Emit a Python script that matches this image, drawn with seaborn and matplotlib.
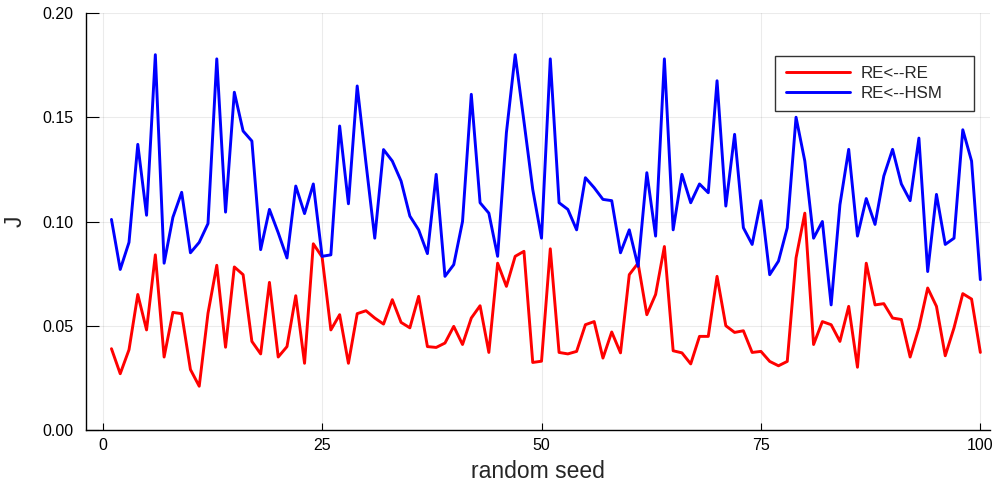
import numpy as np
import pandas as pd
import seaborn as sns
import matplotlib
matplotlib.use("Agg")
import matplotlib.pyplot as plt

seeds = list(range(1, 101))

re_re = [0.039, 0.027, 0.0385, 0.065, 0.048, 0.084, 0.035, 0.0564, 0.0558, 0.029,
         0.021, 0.056, 0.079, 0.0397, 0.0782, 0.0745, 0.0425, 0.0365, 0.0708, 0.035,
         0.040, 0.0644, 0.032, 0.0893, 0.083, 0.048, 0.0553, 0.032, 0.0558, 0.0572,
         0.0537, 0.0508, 0.0625, 0.0516, 0.049, 0.0641, 0.040, 0.0396, 0.0417, 0.0497,
         0.041, 0.0537, 0.0596, 0.0372, 0.080, 0.0689, 0.0833, 0.0857, 0.0324, 0.033,
         0.0869, 0.0372, 0.0365, 0.0377, 0.0505, 0.052, 0.0345, 0.047, 0.037, 0.0745,
         0.080, 0.0553, 0.065, 0.088, 0.038, 0.037, 0.0317, 0.0449, 0.0449, 0.0737,
         0.050, 0.0468, 0.0476, 0.0372, 0.0377, 0.0329, 0.0308, 0.0329, 0.0825, 0.104,
         0.041, 0.052, 0.0505, 0.0425, 0.0593, 0.0301, 0.080, 0.060, 0.0606, 0.0537,
         0.053, 0.035, 0.049, 0.0681, 0.0593, 0.0356, 0.049, 0.0654, 0.0628, 0.0372]

re_hsm = [0.101, 0.077, 0.090, 0.137, 0.103, 0.180, 0.080, 0.102, 0.114, 0.085,
          0.090, 0.099, 0.178, 0.1045, 0.162, 0.1434, 0.1386, 0.0865, 0.1058, 0.0946,
          0.0825, 0.117, 0.1038, 0.118, 0.0833, 0.084, 0.1458, 0.1085, 0.165, 0.128,
          0.092, 0.1345, 0.129, 0.1194, 0.1026, 0.096, 0.0846, 0.1226, 0.0737, 0.0793,
          0.100, 0.161, 0.109, 0.104, 0.0833, 0.1426, 0.180, 0.148, 0.1154, 0.092,
          0.178, 0.109, 0.1058, 0.096, 0.121, 0.1162, 0.1106, 0.110, 0.085, 0.096,
          0.0785, 0.1234, 0.093, 0.178, 0.096, 0.1226, 0.109, 0.118, 0.1138, 0.1675,
          0.1074, 0.1418, 0.097, 0.089, 0.110, 0.0745, 0.081, 0.097, 0.150, 0.129,
          0.092, 0.100, 0.060, 0.108, 0.1346, 0.093, 0.111, 0.0986, 0.1218, 0.1346,
          0.118, 0.110, 0.140, 0.076, 0.113, 0.089, 0.092, 0.144, 0.129, 0.0721]

series_names = ["RE<--RE", "RE<--HSM"]

df = pd.DataFrame({
    "seed": seeds * 2,
    "J": re_re + re_hsm,
    "series": [series_names[0]] * len(seeds) + [series_names[1]] * len(seeds),
})

sns.set_style("white")
plt.rcParams['font.family'] = ['Liberation Sans', 'DejaVu Sans']

W, H = 1000, 487
L, R, B, T = 86, 990, 430, 13
fig = plt.figure(figsize=(W / 100, H / 100), dpi=100)
ax = fig.add_axes([L / W, 1 - B / H, (R - L) / W, (B - T) / H])

sns.lineplot(data=df, x="seed", y="J", hue="series",
             palette={series_names[0]: "#ff0000", series_names[1]: "#0000ff"},
             linewidth=2.1, ax=ax, legend=True)

ax.set_xlim(-1.9, 101.1)
ax.set_ylim(0, 0.20)
ax.set_xticks([0, 25, 50, 75, 100])
ax.set_yticks([0.00, 0.05, 0.10, 0.15, 0.20])
ax.set_yticklabels(["0.00", "0.05", "0.10", "0.15", "0.20"])
ax.grid(True, color="#000000", alpha=0.08, linewidth=0.8)
ax.set_axisbelow(True)

for s in ["top", "right"]:
    ax.spines[s].set_visible(False)
for s in ["left", "bottom"]:
    ax.spines[s].set_color("black")
    ax.spines[s].set_linewidth(1.0)

ax.tick_params(axis="y", direction="in", length=9.5, width=0.8, pad=9,
               labelsize=11.5, colors="black", left=True)
ax.tick_params(axis="x", direction="in", length=5, width=0.8, pad=6,
               labelsize=11.5, colors="black", bottom=True)
ax.set_xlabel("random seed", fontsize=16.5, labelpad=5)
ax.set_ylabel("J", fontsize=16.5, labelpad=11)

# legend box in axes fraction
lx0 = (775 - L) / (R - L)
lx1 = (974 - L) / (R - L)
ly1 = (B - 55.7) / (B - T)
ly0 = (B - 120) / (B - T)
leg = ax.legend(loc="upper left", bbox_to_anchor=(lx0, ly0, lx1 - lx0, ly1 - ly0),
                mode="expand", borderaxespad=0, fontsize=12.2,
                frameon=True, fancybox=False, edgecolor="black",
                borderpad=0.62, handlelength=3.8, handletextpad=0.65,
                labelspacing=0.28)
leg.get_frame().set_linewidth(1.0)
leg.set_title(None)

fig.savefig("out.png", dpi=100)
